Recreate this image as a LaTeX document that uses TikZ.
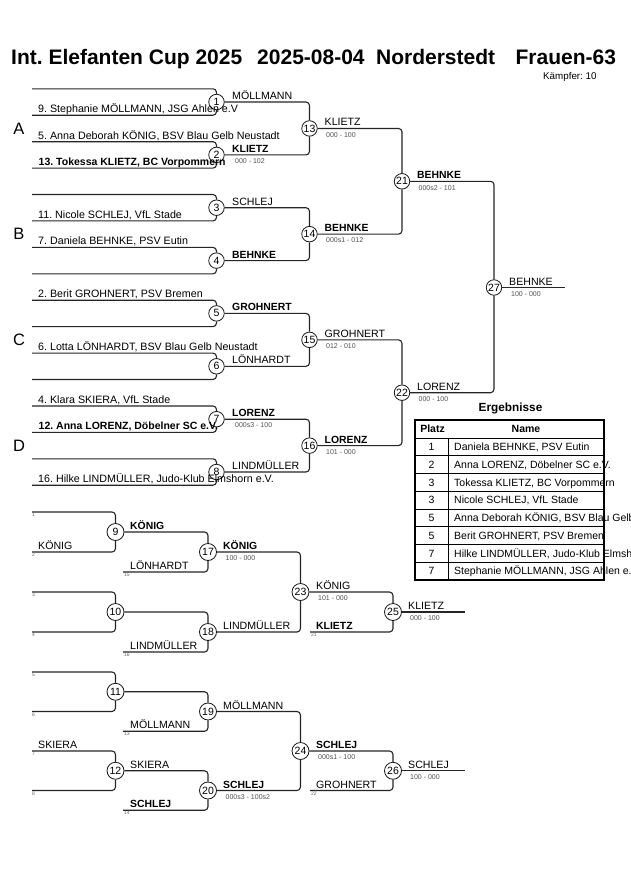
\documentclass[tikz,border=0pt]{standalone}
\usepackage{fontspec}
\setmainfont{Liberation Sans}
\definecolor{seedc}{RGB}{90,105,125}
\definecolor{scorec}{RGB}{85,80,80}
\begin{document}
\frenchspacing
\begin{tikzpicture}[x=1pt,y=-1pt,
  br/.style={line width=1.1pt, draw=black!85, rounded corners=3.5pt},
  mc/.style={circle, draw=black!90, line width=0.8pt, fill=white, minimum size=15.5pt, inner sep=0pt, font=\fontsize{10.5}{11}\selectfont},
  rc/.style={mc, minimum size=17pt},
  nm/.style={anchor=base west, inner sep=0pt, font=\fontsize{10.7}{12}\selectfont},
  nmb/.style={anchor=base west, inner sep=0pt, font=\fontsize{10.5}{12}\selectfont\bfseries},
  wl/.style={anchor=base west, inner sep=0pt, font=\fontsize{10.6}{12}\selectfont},
  wlb/.style={anchor=base west, inner sep=0pt, font=\fontsize{10.4}{12}\selectfont\bfseries},
  sc/.style={anchor=north west, inner sep=0pt, text=scorec, font=\fontsize{7}{8}\selectfont},
  sd/.style={anchor=north west, inner sep=0pt, text=seedc, font=\fontsize{5}{6}\selectfont},
  grp/.style={anchor=center, inner sep=0pt, font=\fontsize{16.5}{18}\selectfont},
  tcell/.style={anchor=base west, inner sep=0pt, font=\fontsize{10.5}{12}\selectfont},
  tnum/.style={anchor=base, inner sep=0pt, font=\fontsize{10.5}{12}\selectfont},
  thead/.style={anchor=base, inner sep=0pt, font=\fontsize{10.5}{12}\selectfont\bfseries},
  tline/.style={line width=0.8pt, draw=black},
  tframe/.style={line width=1.8pt, draw=black}
]
\useasboundingbox[fill=white] (0,0) rectangle (630,891);

% ---------- title ----------
\node[anchor=base west, inner sep=0pt, font=\fontsize{21}{24}\selectfont\bfseries] (title) at (11,65)
  {Int. Elefanten Cup 2025\hspace{15pt}2025-08-04\hspace{11.5pt}Norderstedt\hspace{20.5pt}Frauen-63};
\node[anchor=base west, inner sep=0pt, font=\fontsize{9.8}{11}\selectfont] (kaempfer) at (543,80) {Kämpfer: 10};

% ---------- main bracket circles ----------
\node[mc] (m1) at (216.5,102.0) {1};
\node[mc] (m2) at (216.5,154.9) {2};
\node[mc] (m3) at (216.5,207.7) {3};
\node[mc] (m4) at (216.5,260.6) {4};
\node[mc] (m5) at (216.5,313.4) {5};
\node[mc] (m6) at (216.5,366.3) {6};
\node[mc] (m7) at (216.5,419.2) {7};
\node[mc] (m8) at (216.5,472.0) {8};
\node[mc] (m13) at (309.5,128.45) {13};
\node[mc] (m14) at (309.5,234.15) {14};
\node[mc] (m15) at (309.5,339.85) {15};
\node[mc] (m16) at (309.5,445.6) {16};
\node[mc] (m21) at (402,181.3) {21};
\node[mc] (m22) at (402,392.7) {22};
\node[mc] (m27) at (494,287.5) {27};

% free ends main
\coordinate (i1a) at (32,88.8);  \coordinate (i1b) at (32,115.2);
\coordinate (i2a) at (32,141.7); \coordinate (i2b) at (32,168.1);
\coordinate (i3a) at (32,194.5); \coordinate (i3b) at (32,220.9);
\coordinate (i4a) at (32,247.4); \coordinate (i4b) at (32,273.8);
\coordinate (i5a) at (32,300.2); \coordinate (i5b) at (32,326.6);
\coordinate (i6a) at (32,353.1); \coordinate (i6b) at (32,379.5);
\coordinate (i7a) at (32,406.0); \coordinate (i7b) at (32,432.4);
\coordinate (i8a) at (32,458.8); \coordinate (i8b) at (32,485.2);
\coordinate (e27) at (565,287.5);

\foreach \k in {1,...,8}{
  \draw[br] (i\k a) -| (m\k);
  \draw[br] (i\k b) -| (m\k);
}
\draw[br] (m1) -| (m13); \draw[br] (m2) -| (m13);
\draw[br] (m3) -| (m14); \draw[br] (m4) -| (m14);
\draw[br] (m5) -| (m15); \draw[br] (m6) -| (m15);
\draw[br] (m7) -| (m16); \draw[br] (m8) -| (m16);
\draw[br] (m13) -| (m21); \draw[br] (m14) -| (m21);
\draw[br] (m15) -| (m22); \draw[br] (m16) -| (m22);
\draw[br] (m21) -| (m27); \draw[br] (m22) -| (m27);
\draw[br] (m27) -- (e27);

% ---------- repechage circles ----------
\node[rc] (m9)  at (115.5,532) {9};
\node[rc] (m10) at (115.5,612) {10};
\node[rc] (m17) at (208,552) {17};
\node[rc] (m18) at (208,632) {18};
\node[rc] (m23) at (300.5,592) {23};
\node[rc] (m25) at (393,612) {25};
\node[rc] (m11) at (115.5,691.75) {11};
\node[rc] (m12) at (115.5,770.75) {12};
\node[rc] (m19) at (208,711.5) {19};
\node[rc] (m20) at (208,790.5) {20};
\node[rc] (m24) at (300.5,751) {24};
\node[rc] (m26) at (393,770.75) {26};

\coordinate (r9a) at (32,512);  \coordinate (r9b) at (32,552);
\coordinate (r10a) at (32,592); \coordinate (r10b) at (32,632);
\coordinate (r11a) at (32,672); \coordinate (r11b) at (32,711.5);
\coordinate (r12a) at (32,751); \coordinate (r12b) at (32,790.5);
\coordinate (l17) at (123,572);  \coordinate (l18) at (123,652);
\coordinate (l19) at (123,731.25); \coordinate (l20) at (123,810.25);
\coordinate (l25) at (310,632);  \coordinate (l26) at (310,790.5);
\coordinate (e25) at (465,612);  \coordinate (e26) at (465,770.75);

\foreach \k in {9,10,11,12}{
  \draw[br] (r\k a) -| (m\k);
  \draw[br] (r\k b) -| (m\k);
}
\draw[br] (m9) -| (m17);  \draw[br] (l17) -| (m17);
\draw[br] (m10) -| (m18); \draw[br] (l18) -| (m18);
\draw[br] (m17) -| (m23); \draw[br] (m18) -| (m23);
\draw[br] (m23) -| (m25); \draw[br] (l25) -| (m25);
\draw[br] (m25) -- (e25);
\draw[br] (m11) -| (m19); \draw[br] (l19) -| (m19);
\draw[br] (m12) -| (m20); \draw[br] (l20) -| (m20);
\draw[br] (m19) -| (m24); \draw[br] (m20) -| (m24);
\draw[br] (m24) -| (m26); \draw[br] (l26) -| (m26);
\draw[br] (m26) -- (e26);

% ---------- group letters ----------
\node[grp] (gA) at (19,128.5) {A};
\node[grp] (gB) at (19,234.2) {B};
\node[grp] (gC) at (19,339.9) {C};
\node[grp] (gD) at (19,445.6) {D};

% ---------- main names ----------
\node[nm]  (n1) at (38,112.7) {9. Stephanie MÖLLMANN, JSG Ahlen e.V};
\node[nm]  (n2) at (38,139.2) {5. Anna Deborah KÖNIG, BSV Blau Gelb Neustadt};
\node[nmb] (n3) at (38.5,165.6) {13. Tokessa KLIETZ, BC Vorpommern};
\node[nm]  (n4) at (38,218.4) {11. Nicole SCHLEJ, VfL Stade};
\node[nm]  (n5) at (38,244.9) {7. Daniela BEHNKE, PSV Eutin};
\node[nm]  (n6) at (38,297.7) {2. Berit GROHNERT, PSV Bremen};
\node[nm]  (n7) at (38,350.6) {6. Lotta LÖNHARDT, BSV Blau Gelb Neustadt};
\node[nm]  (n8) at (38,403.5) {4. Klara SKIERA, VfL Stade};
\node[nmb] (n9) at (38.5,429.9) {12. Anna LORENZ, Döbelner SC e.V.};
\node[nm]  (n10) at (38,482.7) {16. Hilke LINDMÜLLER, Judo-Klub Elmshorn e.V.};

% round 1 winners
\node[wl]  (w1) at (232,99.5) {MÖLLMANN};
\node[wlb] (w2) at (232,152.4) {KLIETZ};
\node[sc]  (s2) at (235,158.6) {000 - 102};
\node[wl]  (w3) at (232,205.2) {SCHLEJ};
\node[wlb] (w4) at (232,258.1) {BEHNKE};
\node[wlb] (w5) at (232,310.9) {GROHNERT};
\node[wl]  (w6) at (232,363.8) {LÖNHARDT};
\node[wlb] (w7) at (232,416.7) {LORENZ};
\node[sc]  (s7) at (235,422.9) {000s3 - 100};
\node[wl]  (w8) at (232,469.5) {LINDMÜLLER};
% round 2
\node[wl]  (w13) at (324.5,125.9) {KLIETZ};
\node[sc]  (s13) at (326,132.1) {000 - 100};
\node[wlb] (w14) at (324.5,231.6) {BEHNKE};
\node[sc]  (s14) at (326,237.8) {000s1 - 012};
\node[wl]  (w15) at (324.5,337.3) {GROHNERT};
\node[sc]  (s15) at (326,343.5) {012 - 010};
\node[wlb] (w16) at (324.5,443.1) {LORENZ};
\node[sc]  (s16) at (326,449.3) {101 - 000};
% round 3
\node[wlb] (w21) at (417,178.8) {BEHNKE};
\node[sc]  (s21) at (418.5,185.0) {000s2 - 101};
\node[wl]  (w22) at (417,390.2) {LORENZ};
\node[sc]  (s22) at (418.5,396.4) {000 - 100};
% final
\node[wl]  (w27) at (509,285.0) {BEHNKE};
\node[sc]  (s27) at (511,291.2) {100 - 000};

% ---------- repechage labels ----------
\node[sd] (d1) at (32,513) {1};
\node[sd] (d2) at (32,553) {2};
\node[sd] (d3) at (32,593) {3};
\node[sd] (d4) at (32,633) {4};
\node[sd] (d5) at (32,673) {5};
\node[sd] (d6) at (32,712.5) {6};
\node[sd] (d7) at (32,752) {7};
\node[sd] (d8) at (32,791.5) {8};
\node[sd] (d15) at (124,573) {15};
\node[sd] (d16) at (124,653) {16};
\node[sd] (d13) at (124,732.25) {13};
\node[sd] (d14) at (124,811.25) {14};
\node[sd] (d21) at (311,633) {21};
\node[sd] (d22) at (311,791.5) {22};

\node[wl]  (rn2) at (38,549.5) {KÖNIG};
\node[wlb] (rw9) at (130,529.5) {KÖNIG};
\node[wl]  (rl17) at (130,569.5) {LÖNHARDT};
\node[wlb] (rw17) at (223,549.5) {KÖNIG};
\node[sc]  (rs17) at (225.5,555.6) {100 - 000};
\node[wl]  (rl18) at (130,649.5) {LINDMÜLLER};
\node[wl]  (rw18) at (223,629.5) {LINDMÜLLER};
\node[wl]  (rw23) at (316,589.5) {KÖNIG};
\node[sc]  (rs23) at (318,595.6) {101 - 000};
\node[wlb] (rl25) at (316,629.5) {KLIETZ};
\node[wl]  (rw25) at (408,609.5) {KLIETZ};
\node[sc]  (rs25) at (410,615.6) {000 - 100};

\node[wl]  (rl19) at (130,728.75) {MÖLLMANN};
\node[wl]  (rw19) at (223,709.0) {MÖLLMANN};
\node[wl]  (rn7) at (38,748.5) {SKIERA};
\node[wl]  (rw12) at (130,768.25) {SKIERA};
\node[wlb] (rl20) at (130,807.75) {SCHLEJ};
\node[wlb] (rw20) at (223,788.0) {SCHLEJ};
\node[sc]  (rs20) at (225.5,794.1) {000s3 - 100s2};
\node[wlb] (rw24) at (316,748.5) {SCHLEJ};
\node[sc]  (rs24) at (318,754.6) {000s1 - 100};
\node[wl]  (rl26) at (316,788.0) {GROHNERT};
\node[wl]  (rw26) at (408,768.25) {SCHLEJ};
\node[sc]  (rs26) at (410,774.35) {100 - 000};

% ---------- results table ----------
\node[anchor=base, inner sep=0pt, font=\fontsize{11.8}{13}\selectfont\bfseries] (erg) at (510.5,411.2) {Ergebnisse};
\node[thead] (hp) at (432.5,432.8) {Platz};
\node[thead] (hn) at (526,432.8) {Name};
\node[tnum] (p1) at (431.5,450.7) {1};
\node[tcell] (q1) at (454,450.7) {Daniela BEHNKE, PSV Eutin};
\node[tnum] (p2) at (431.5,468.4) {2};
\node[tcell] (q2) at (454,468.4) {Anna LORENZ, Döbelner SC e.V.};
\node[tnum] (p3) at (431.5,486.2) {3};
\node[tcell] (q3) at (454,486.2) {Tokessa KLIETZ, BC Vorpommern};
\node[tnum] (p4) at (431.5,503.9) {3};
\node[tcell] (q4) at (454,503.9) {Nicole SCHLEJ, VfL Stade};
\node[tnum] (p5) at (431.5,521.7) {5};
\node[tcell] (q5) at (454,521.7) {Anna Deborah KÖNIG, BSV Blau Gelb Neustadt};
\node[tnum] (p6) at (431.5,539.4) {5};
\node[tcell] (q6) at (454,539.4) {Berit GROHNERT, PSV Bremen};
\node[tnum] (p7) at (431.5,557.2) {7};
\node[tcell] (q7) at (454,557.2) {Hilke LINDMÜLLER, Judo-Klub Elmshorn e.V.};
\node[tnum] (p8) at (431.5,574.9) {7};
\node[tcell] (q8) at (454,574.9) {Stephanie MÖLLMANN, JSG Ahlen e.V};

\foreach \yy in {438,455.75,473.5,491.25,509,526.75,544.5,562.25}{
  \draw[tline] (415,\yy) -- (604,\yy);
}
\draw[tline] (448,438) -- (448,580);
\draw[tframe] (415,420) rectangle (604,580);
\end{tikzpicture}
\end{document}
